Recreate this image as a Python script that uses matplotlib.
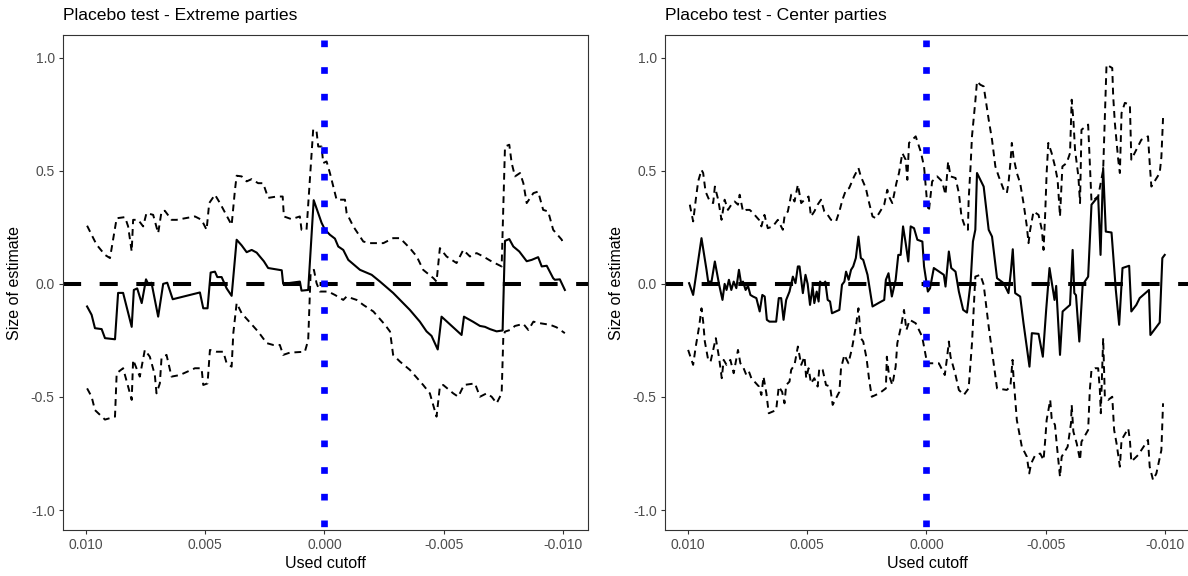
import numpy as np
import matplotlib
matplotlib.use("Agg")
import matplotlib.pyplot as plt
from matplotlib.ticker import FormatStrFormatter

plt.rcParams["font.family"] = ["Liberation Sans", "DejaVu Sans"]
plt.rcParams["axes.unicode_minus"] = False

# cutoffs below are written in thousandths (9.95 -> 0.00995)
CUTOFF_UNIT = 1e-3

# ---- Extreme parties ----
ext_est_x = [9.95, 9.76, 9.62, 9.34, 9.20, 8.78, 8.65, 8.44, 8.08, 7.99,
             7.85, 7.66, 7.48, 7.39, 7.25, 6.97, 6.76, 6.59, 6.36, 5.22,
             5.08, 4.90, 4.77, 4.59, 4.49, 4.31, 4.10, 3.89, 3.68, 3.47,
             3.26, 3.05, 2.84, 2.70, 2.54, 2.36, 1.79, 1.73, 1.03, 0.96,
             0.68, 0.45, 0.12, -0.02, -0.23, -0.44, -0.58, -0.79, -1.00, -1.49,
             -1.98, -2.33, -2.88, -3.58, -4.00, -4.28, -4.49, -4.75, -4.91, -5.75,
             -5.85, -6.24, -6.52, -6.73, -6.94, -7.22, -7.47, -7.57, -7.75, -7.92,
             -8.17, -8.48, -8.69, -8.96, -9.11, -9.32, -9.59, -9.66, -9.87, -10.08]
ext_est = [-0.10, -0.137, -0.196, -0.20, -0.24, -0.245, -0.04, -0.04, -0.19, -0.027,
           -0.02, -0.085, 0.02, 0.0, 0.005, -0.145, 0.0, 0.005, -0.068, -0.038,
           -0.108, -0.108, 0.05, 0.054, 0.03, 0.03, -0.02, -0.053, 0.195, 0.17,
           0.14, 0.15, 0.138, 0.12, 0.10, 0.07, 0.06, 0.0, 0.01, -0.03,
           -0.027, 0.37, 0.27, 0.24, 0.217, 0.20, 0.165, 0.15, 0.106, 0.062,
           0.04, 0.01, -0.04, -0.115, -0.167, -0.21, -0.23, -0.29, -0.145, -0.226,
           -0.145, -0.168, -0.186, -0.19, -0.20, -0.21, -0.206, 0.19, 0.198, 0.165,
           0.143, 0.1, 0.106, 0.118, 0.077, 0.08, 0.025, 0.018, 0.02, -0.027]

ext_hi_x = [9.95, 9.69, 9.55, 9.20, 8.99, 8.71, 8.36, 8.23, 8.08, 8.02,
            7.81, 7.60, 7.46, 7.18, 6.97, 6.83, 6.69, 6.41, 6.20, 5.43,
            5.15, 4.94, 4.83, 4.59, 4.38, 3.89, 3.75, 3.68, 3.47, 3.26, 3.05,
            2.78, 2.57, 2.36, 2.00, 1.75, 1.70, 1.38, 1.03, 0.96, 0.75,
            0.47, 0.33, 0.26, 0.12, 0.05, -0.09, -0.23, -0.51, -0.86, -0.93,
            -1.21, -1.63, -1.91, -2.47, -2.88, -3.17, -3.58, -3.87, -4.14, -4.57,
            -4.70, -4.84, -5.12, -5.54, -5.82, -6.10, -6.38, -6.66, -7.01, -7.43,
            -7.57, -7.75, -7.85, -7.99, -8.20, -8.34, -8.48, -8.76, -8.96, -9.17,
            -9.38, -9.59, -9.95, -10.0]
ext_hi = [0.257, 0.202, 0.173, 0.128, 0.114, 0.29, 0.295, 0.254, 0.143, 0.283,
          0.283, 0.254, 0.313, 0.305, 0.224, 0.32, 0.323, 0.283, 0.283, 0.298,
          0.283, 0.239, 0.357, 0.394, 0.357, 0.26, 0.416, 0.478, 0.475, 0.453, 0.463,
          0.445, 0.445, 0.38, 0.386, 0.386, 0.298, 0.286, 0.298, 0.239, 0.239,
          0.684, 0.674, 0.607, 0.607, 0.534, 0.541, 0.49, 0.372, 0.372, 0.313,
          0.254, 0.187, 0.18, 0.18, 0.202, 0.202, 0.158, 0.121, 0.062, 0.025,
          0.01, 0.158, 0.121, 0.092, 0.15, 0.121, 0.136, 0.121, 0.099, 0.077,
          0.607, 0.615, 0.534, 0.475, 0.49, 0.445, 0.357, 0.401, 0.408, 0.327,
          0.32, 0.239, 0.195, 0.18]

ext_lo_x = [9.95, 9.76, 9.62, 9.20, 8.78, 8.71, 8.44, 8.23, 8.08, 8.02,
            7.74, 7.53, 7.32, 7.11, 7.04, 6.90, 6.83, 6.62, 6.41, 6.06,
            5.43, 5.15, 5.08, 4.90, 4.80, 4.52, 4.24, 4.10, 3.89, 3.82,
            3.68, 3.47, 2.78, 2.42, 2.15, 1.87, 1.73, 1.45, 0.82, 0.68,
            0.58, 0.44, 0.33, 0.19, -0.16, -0.44, -0.79, -0.93, -1.35, -1.63,
            -2.05, -2.54, -2.75, -2.88, -3.17, -3.58, -4.14, -4.42, -4.70, -4.84,
            -4.98, -5.40, -5.61, -5.85, -6.31, -6.52, -6.80, -7.01, -7.22, -7.43,
            -7.50, -7.57, -7.78, -7.99, -8.34, -8.55, -8.76, -9.04, -9.46, -9.73,
            -10.08]
ext_lo = [-0.462, -0.499, -0.558, -0.60, -0.587, -0.395, -0.373, -0.454, -0.513, -0.336,
          -0.41, -0.292, -0.322, -0.403, -0.484, -0.44, -0.329, -0.314, -0.41, -0.403,
          -0.373, -0.373, -0.447, -0.44, -0.292, -0.30, -0.30, -0.351, -0.366, -0.218,
          -0.085, -0.13, -0.211, -0.262, -0.27, -0.27, -0.314, -0.304, -0.30, -0.248,
          0.047, 0.062, 0.003, -0.034, -0.034, -0.049, -0.071, -0.056, -0.071, -0.093,
          -0.122, -0.181, -0.211, -0.314, -0.344, -0.38, -0.447, -0.484, -0.587, -0.454,
          -0.447, -0.484, -0.499, -0.447, -0.44, -0.499, -0.484, -0.499, -0.528, -0.484,
          -0.233, -0.211, -0.204, -0.186, -0.177, -0.204, -0.167, -0.174, -0.181, -0.192,
          -0.218]

# ---- Center parties ----
ctr_est_x = [9.95, 9.78, 9.43, 9.22, 9.15, 9.01, 8.87, 8.69, 8.55, 8.46,
             8.38, 8.28, 8.18, 8.08, 7.97, 7.86, 7.76, 7.69, 7.58, 7.48,
             7.38, 7.27, 7.13, 6.99, 6.88, 6.78, 6.69, 6.58, 6.30, 6.19,
             6.09, 5.99, 5.88, 5.74, 5.60, 5.49, 5.39, 5.32, 5.18, 5.07,
             4.98, 4.88, 4.77, 4.70, 4.60, 4.52, 4.46, 4.35, 4.24, 4.14,
             4.04, 3.96, 3.65, 3.54, 3.44, 3.37, 3.26, 3.16, 3.07, 2.96,
             2.85, 2.75, 2.65, 2.47, 2.26, 1.98, 1.77, 1.70, 1.59, 1.45,
             1.29, 1.18, 1.08, 0.98, 0.87, 0.76, 0.66, 0.52, 0.38, 0.17,
             0.10, -0.06, -0.15, -0.31, -0.73, -0.80, -0.94, -1.04, -1.22, -1.36,
             -1.54, -1.70, -1.85, -1.95, -2.05, -2.12, -2.40, -2.61, -2.75, -2.96,
             -3.24, -3.44, -3.54, -3.62, -3.72, -3.93, -4.07, -4.32, -4.42, -4.70,
             -4.88, -5.02, -5.16, -5.29, -5.37, -5.44, -5.60, -5.71, -6.02, -6.13,
             -6.20, -6.27, -6.41, -6.55, -6.78, -6.92, -7.20, -7.30, -7.41, -7.52,
             -7.76, -7.94, -8.08, -8.22, -8.50, -8.59, -8.80, -8.94, -9.33, -9.39,
             -9.78, -9.89, -9.99]
ctr_est = [0.003, -0.049, 0.202, 0.062, 0.01, 0.01, 0.099, -0.004, -0.071, 0.0,
           -0.027, 0.018, -0.027, 0.01, -0.019, 0.062, -0.004, 0.01, -0.027, -0.009,
           -0.049, -0.056, -0.063, -0.122, -0.049, -0.056, -0.159, -0.167, -0.167, -0.063,
           -0.063, -0.159, -0.071, -0.034, 0.032, 0.003, 0.077, 0.077, -0.041, 0.04,
           0.0, -0.093, -0.012, -0.085, -0.034, -0.078, 0.01, -0.004, 0.01, -0.071,
           -0.078, -0.13, -0.115, -0.004, 0.01, 0.054, 0.018, 0.062, 0.077, 0.114,
           0.209, 0.114, 0.106, 0.04, -0.10, -0.083, -0.071, 0.018, 0.047, -0.056,
           0.018, 0.128, 0.128, 0.254, 0.18, 0.099, 0.254, 0.246, 0.195, 0.187,
           0.077, -0.034, -0.02, 0.07, 0.04, -0.012, 0.143, 0.07, 0.054, -0.034,
           -0.115, -0.127, 0.003, 0.187, 0.239, 0.49, 0.43, 0.239, 0.209, 0.025,
           0.003, -0.041, 0.054, 0.153, -0.041, -0.056, -0.174, -0.366, -0.218, -0.221,
           -0.322, -0.115, 0.07, -0.019, -0.071, -0.009, -0.314, -0.122, -0.093, 0.15,
           -0.041, -0.05, -0.255, -0.004, 0.032, 0.35, 0.386, 0.128, 0.512, 0.231,
           0.227, -0.027, -0.181, 0.07, 0.08, -0.122, -0.093, -0.063, -0.027, -0.226,
           -0.171, 0.114, 0.128]

ctr_hi_x = [9.92, 9.78, 9.67, 9.57, 9.43, 9.36, 9.26, 9.08, 8.94, 8.87,
            8.73, 8.59, 8.46, 8.32, 8.18, 8.04, 7.90, 7.83, 7.69, 7.55,
            7.41, 7.27, 7.02, 6.92, 6.79, 6.65, 6.44, 6.23, 6.02, 5.95,
            5.81, 5.67, 5.53, 5.39, 5.25, 5.11, 4.94, 4.84, 4.70, 4.56,
            4.42, 4.28, 4.14, 4.00, 3.79, 3.65, 3.52, 3.37, 3.24, 3.03,
            2.85, 2.75, 2.54, 2.40, 2.26, 2.12, 1.98, 1.77, 1.64, 1.57,
            1.43, 1.26, 1.15, 1.01, 0.87, 0.80, 0.73, 0.59, 0.45, 0.24,
            0.10, -0.03, -0.10, -0.24, -0.45, -0.66, -0.80, -0.91, -1.01, -1.22,
            -1.36, -1.47, -1.61, -1.74, -1.77, -1.85, -1.91, -2.05, -2.12, -2.26,
            -2.40, -2.61, -2.75, -2.89, -3.03, -3.24, -3.37, -3.44, -3.52, -3.58,
            -3.65, -3.79, -3.93, -4.07, -4.21, -4.28, -4.35, -4.49, -4.70, -4.84,
            -4.91, -4.98, -5.04, -5.11, -5.25, -5.39, -5.50, -5.60, -5.70, -5.88,
            -6.02, -6.09, -6.16, -6.23, -6.37, -6.44, -6.50, -6.78, -6.92, -7.20,
            -7.41, -7.55, -7.79, -7.83, -7.90, -8.04, -8.11, -8.18, -8.32, -8.53,
            -8.59, -8.87, -9.01, -9.29, -9.36, -9.43, -9.78, -9.85, -9.92]
ctr_hi = [0.35, 0.276, 0.372, 0.453, 0.504, 0.49, 0.408, 0.364, 0.357, 0.43,
          0.372, 0.283, 0.372, 0.327, 0.35, 0.364, 0.35, 0.394, 0.32, 0.327,
          0.327, 0.313, 0.283, 0.254, 0.305, 0.246, 0.254, 0.283, 0.239, 0.298,
          0.32, 0.394, 0.364, 0.438, 0.357, 0.372, 0.386, 0.298, 0.32, 0.35,
          0.372, 0.32, 0.305, 0.283, 0.276, 0.32, 0.372, 0.416, 0.423, 0.475,
          0.512, 0.475, 0.423, 0.357, 0.298, 0.29, 0.313, 0.35, 0.416, 0.386,
          0.357, 0.445, 0.49, 0.578, 0.549, 0.46, 0.623, 0.637, 0.652, 0.585,
          0.519, 0.357, 0.32, 0.453, 0.475, 0.453, 0.394, 0.541, 0.475, 0.468,
          0.401, 0.298, 0.254, 0.239, 0.372, 0.519, 0.652, 0.807, 0.895, 0.88,
          0.873, 0.726, 0.637, 0.519, 0.475, 0.416, 0.401, 0.445, 0.534, 0.623,
          0.56, 0.49, 0.445, 0.357, 0.254, 0.18, 0.239, 0.32, 0.305, 0.239,
          0.15, 0.313, 0.49, 0.623, 0.578, 0.519, 0.46, 0.298, 0.519, 0.534,
          0.578, 0.814, 0.726, 0.593, 0.475, 0.357, 0.681, 0.704, 0.364, 0.386,
          0.504, 0.969, 0.954, 0.829, 0.711, 0.549, 0.49, 0.755, 0.80, 0.792,
          0.549, 0.607, 0.637, 0.652, 0.534, 0.43, 0.49, 0.56, 0.733]

ctr_lo_x = [9.99, 9.78, 9.67, 9.53, 9.43, 9.36, 9.29, 9.15, 9.05, 8.94,
            8.83, 8.69, 8.58, 8.50, 8.38, 8.22, 8.08, 7.90, 7.80, 7.69,
            7.55, 7.44, 7.34, 7.02, 6.92, 6.83, 6.71, 6.61, 6.30, 6.19,
            6.05, 5.95, 5.88, 5.74, 5.67, 5.53, 5.39, 5.25, 5.11, 5.04,
            4.94, 4.84, 4.70, 4.56, 4.49, 4.35, 4.21, 4.04, 3.93, 3.65,
            3.58, 3.44, 3.27, 3.12, 2.96, 2.85, 2.75, 2.65, 2.51, 2.40,
            2.29, 1.98, 1.70, 1.66, 1.57, 1.43, 1.29, 1.22, 1.08, 0.94,
            0.84, 0.70, 0.45, 0.18, -0.03, -0.31, -0.52, -0.77, -0.87, -0.94,
            -1.01, -1.22, -1.36, -1.57, -1.77, -1.91, -2.05, -2.26, -2.40, -2.61,
            -2.82, -2.96, -3.37, -3.52, -3.61, -3.65, -3.79, -4.00, -4.21, -4.31,
            -4.39, -4.56, -4.77, -4.91, -4.98, -5.04, -5.19, -5.25, -5.39, -5.46,
            -5.60, -5.67, -5.92, -6.06, -6.09, -6.16, -6.30, -6.44, -6.50, -6.78,
            -6.85, -6.92, -7.06, -7.20, -7.27, -7.31, -7.37, -7.41, -7.48, -7.62,
            -7.79, -7.87, -7.97, -8.11, -8.18, -8.46, -8.53, -8.59, -8.87, -9.01,
            -9.29, -9.36, -9.50, -9.64, -9.85, -9.92]
ctr_lo = [-0.292, -0.358, -0.277, -0.189, -0.108, -0.167, -0.255, -0.336, -0.344, -0.292,
          -0.24, -0.329, -0.417, -0.336, -0.358, -0.336, -0.395, -0.292, -0.351, -0.366,
          -0.403, -0.388, -0.417, -0.454, -0.491, -0.41, -0.484, -0.572, -0.558, -0.454,
          -0.477, -0.528, -0.447, -0.432, -0.38, -0.358, -0.277, -0.358, -0.322, -0.417,
          -0.373, -0.44, -0.417, -0.454, -0.373, -0.38, -0.447, -0.454, -0.535, -0.477,
          -0.373, -0.314, -0.351, -0.285, -0.189, -0.108, -0.24, -0.255, -0.329, -0.425,
          -0.499, -0.484, -0.462, -0.322, -0.403, -0.447, -0.366, -0.262, -0.196, -0.115,
          -0.204, -0.159, -0.174, -0.233, -0.351, -0.351, -0.351, -0.403, -0.322, -0.255,
          -0.322, -0.403, -0.469, -0.491, -0.462, -0.262, 0.032, 0.04, -0.004, -0.189,
          -0.351, -0.462, -0.469, -0.454, -0.336, -0.41, -0.602, -0.72, -0.764, -0.838,
          -0.794, -0.757, -0.75, -0.779, -0.69, -0.602, -0.513, -0.594, -0.624, -0.705,
          -0.853, -0.764, -0.72, -0.616, -0.535, -0.653, -0.705, -0.779, -0.698, -0.646,
          -0.469, -0.38, -0.373, -0.373, -0.469, -0.572, -0.373, -0.24, -0.499, -0.513,
          -0.499, -0.646, -0.705, -0.808, -0.69, -0.639, -0.69, -0.786, -0.757, -0.735,
          -0.69, -0.808, -0.867, -0.838, -0.735, -0.528]

x_ticks = [0.010, 0.005, 0.000, -0.005, -0.010]
y_ticks = [-1.0, -0.5, 0.0, 0.5, 1.0]


def draw_panel(ax, title, est_x, est, hi_x, hi, lo_x, lo):
    ax.plot(np.array(hi_x) * CUTOFF_UNIT, hi, color="black", lw=1.4,
            ls=(0, (3.5, 2.5)))
    ax.plot(np.array(lo_x) * CUTOFF_UNIT, lo, color="black", lw=1.4,
            ls=(0, (3.5, 2.5)))
    ax.plot(np.array(est_x) * CUTOFF_UNIT, est, color="black", lw=1.5)
    ax.axhline(0, color="black", lw=2.9, ls=(0, (4.5, 4.6)))
    # dotted line: square dots about 7 px wide, 27 px apart
    ax.axvline(0, color="blue", lw=4.8, ls=(3.5, (1, 3.0)),
               dash_capstyle="butt")

    ax.set_xlim(0.01096, -0.01105)
    ax.set_ylim(-1.088, 1.10)
    ax.set_xticks(x_ticks)
    ax.set_yticks(y_ticks)
    ax.xaxis.set_major_formatter(FormatStrFormatter("%.3f"))
    ax.yaxis.set_major_formatter(FormatStrFormatter("%.1f"))
    ax.tick_params(length=3, width=0.8, color="#333333", labelcolor="#4D4D4D",
                   labelsize=10, pad=3)
    for s in ax.spines.values():
        s.set_color("#333333")
        s.set_linewidth(0.8)
    ax.set_title(title, loc="left", fontsize=12.6, pad=11)
    ax.set_xlabel("Used cutoff", fontsize=11.5, labelpad=3)
    ax.set_ylabel("Size of estimate", fontsize=11.5, labelpad=6)


fig = plt.figure(figsize=(11.88, 5.76), dpi=100)
ax1 = fig.add_axes([63 / 1188, 46 / 576, 525 / 1188, 495 / 576])
ax2 = fig.add_axes([665 / 1188, 46 / 576, 525 / 1188, 495 / 576])

draw_panel(ax1, "Placebo test - Extreme parties", ext_est_x, ext_est,
           ext_hi_x, ext_hi, ext_lo_x, ext_lo)
draw_panel(ax2, "Placebo test - Center parties", ctr_est_x, ctr_est,
           ctr_hi_x, ctr_hi, ctr_lo_x, ctr_lo)

fig.savefig("out.png", dpi=100)
